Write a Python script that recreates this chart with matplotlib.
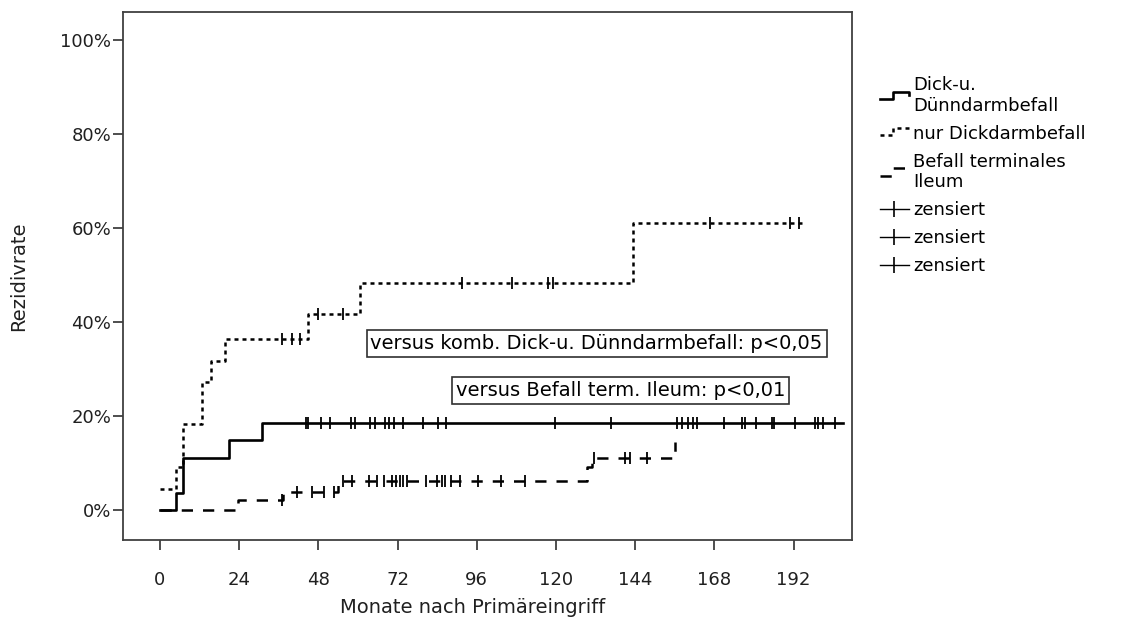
import numpy as np
import matplotlib
matplotlib.use("Agg")
import matplotlib.pyplot as plt
from matplotlib.lines import Line2D
from matplotlib.legend_handler import HandlerLine2D
from matplotlib.ticker import FuncFormatter

plt.rcParams['font.family'] = ['DejaVu Sans']

# Kaplan-Meier Stufen (Monate, Rezidivrate in %)
dd_t = [0, 5, 7, 21, 31, 207]
dd_v = [0, 3.7, 11.1, 14.8, 18.5, 18.5]
dd_cens = [44.2, 44.8, 48.8, 51.4, 57.8, 59.0, 63.8, 65.2, 68.2, 69.4, 70.8, 73.6,
           79.7, 84.2, 86.7, 119.7, 136.7, 156.6, 158.2, 160, 161.5, 162.7, 171,
           176.4, 177.3, 180.6, 185.5, 186, 192.4, 198.5, 199.4, 201, 204.5]

dick_t = [0, 5, 7, 12.7, 15.6, 19.7, 44.8, 60.6, 143.3, 195]
dick_v = [4.5, 9.1, 18.2, 27.3, 31.8, 36.4, 41.7, 48.3, 61.0, 61.0]
dick_cens = [37, 40, 42.5, 48, 55.5, 91.5, 106.7, 117.6, 119.1, 166.7, 191, 193.5]

il_t = [0, 23.6, 37.3, 54, 129.4, 131, 156]
il_v = [0, 2.1, 3.8, 6.2, 9.2, 11.1, 14.5]
il_cens = [37, 41.6, 46, 49.7, 52.7, 55.5, 58.3, 63.3, 65.8, 67.8, 70.2, 71.6, 72.6,
           73.6, 74.8, 80.5, 83.9, 85.4, 86.4, 88.2, 90.9, 96.5, 103.4, 110.6,
           131.5, 141, 142.4, 147.5]

labels = ['Dick-u.\nDünndarmbefall', 'nur Dickdarmbefall', 'Befall terminales\nIleum']
xticks = [0, 24, 48, 72, 96, 120, 144, 168, 192]
yticks = [0, 20, 40, 60, 80, 100]


def wert_bei(t, ts, vs):
    i = np.searchsorted(ts, t, side='right') - 1
    return vs[i]


# Legendensymbol als kleine Stufe, wie bei SPSS
class StufenHandler(HandlerLine2D):
    def create_artists(self, legend, orig, xd, yd, w, h, fs, trans):
        y0 = h * 0.25 - yd
        y1 = h * 0.85 - yd
        xs = [-xd, -xd + w * 0.45, -xd + w * 0.45, -xd + w, -xd + w]
        ys = [y0, y0, y1, y1, y1 - h * 0.3]
        ln = Line2D(xs, ys)
        self.update_prop(ln, orig, legend)
        ln.set_transform(trans)
        return [ln]


fig = plt.figure(figsize=(11.23, 6.28), dpi=100)
ax = fig.add_axes([0.1095, 0.140, 0.6495, 0.841])

styles = [dict(lw=1.9, ls='-'),
          dict(lw=1.8, ls=(0, (1.6, 1.6))),
          dict(lw=1.8, ls=(0, (4.5, 4.0)))]

for (ts, vs, cs), st in zip([(dd_t, dd_v, dd_cens), (dick_t, dick_v, dick_cens),
                              (il_t, il_v, il_cens)], styles):
    ax.step(ts, vs, where='post', color='black', **st)
    ax.plot(cs, [wert_bei(c, ts, vs) for c in cs], ls='none', marker='|',
            ms=9, mew=1.3, color='black')

ax.set_xlim(-11.2, 209.8)
ax.set_ylim(-6.4, 106)
ax.set_xticks(xticks)
ax.set_yticks(yticks)
ax.yaxis.set_major_formatter(FuncFormatter(lambda v, p: '%d%%' % v))
ax.tick_params(axis='both', direction='out', length=7, width=1.2, color='#303030',
               labelsize=13, labelcolor='#202020')
ax.tick_params(axis='x', pad=15)
ax.tick_params(axis='y', pad=1.5)
for s in ax.spines.values():
    s.set_color('#404040')
    s.set_linewidth(1.3)

ax.set_xlabel('Monate nach Primäreingriff', fontsize=14, color='#202020', va='center')
ax.xaxis.set_label_coords(0.48, -0.127)
ax.set_ylabel('Rezidivrate', fontsize=14, color='#202020', va='center')
ax.yaxis.set_label_coords(-0.143, 0.50)

box = dict(boxstyle='square,pad=0.2', fc='white', ec='#303030', lw=1.2)
ax.text(63.8, 35.5, 'versus komb. Dick-u. Dünndarmbefall: p<0,05', fontsize=14,
        va='center', ha='left', bbox=box)
ax.text(89.6, 25.4, 'versus Befall term. Ileum: p<0,01', fontsize=14,
        va='center', ha='left', bbox=box)

handles = [Line2D([], [], color='black', **styles[0]),
           Line2D([], [], color='black', **styles[1]),
           Line2D([], [], color='black', **styles[2])]
for _ in range(3):
    handles.append(Line2D([], [], color='black', lw=1.0, marker='|', ms=12, mew=1.2))
stufe = StufenHandler()
fig.legend(handles, labels + ['zensiert'] * 3, loc='upper left',
           bbox_to_anchor=(0.769, 0.905), frameon=False, fontsize=13,
           handlelength=1.6, handletextpad=0.25, labelspacing=0.55, numpoints=1,
           handler_map={handles[0]: stufe, handles[1]: stufe, handles[2]: stufe})

fig.savefig('out.png', dpi=100)
